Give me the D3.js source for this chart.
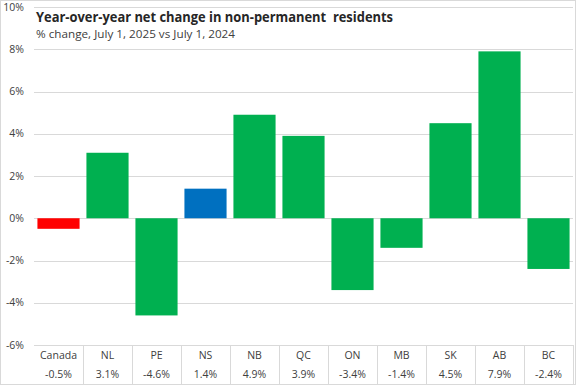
<!DOCTYPE html>
<html lang="en">
<head>
<meta charset="utf-8">
<title>Non-permanent residents change</title>
<script src="https://d3js.org/d3.v7.min.js"></script>
<style>
    body { margin: 0; background: white; }
    text { font-family: "Open Sans", "Noto Sans", sans-serif; }
</style>
</head>
<body>
<svg id="chart" width="576" height="385"></svg>
<script>

    // data
    var regions = ["Canada", "NL", "PE", "NS", "NB", "QC", "ON", "MB", "SK", "AB", "BC"];
    var changes = [-0.5, 3.1, -4.6, 1.4, 4.9, 3.9, -3.4, -1.4, 4.5, 7.9, -2.4];
    var barColors = ["#FF0000", "#00B050", "#00B050", "#0070C0", "#00B050", "#00B050",
                     "#00B050", "#00B050", "#00B050", "#00B050", "#00B050"];
    var yTicks = [-6, -4, -2, 0, 2, 4, 6, 8, 10];

    var width = 576, height = 385;
    var plotLeft = 34, plotRight = 573, plotTop = 7, plotBottom = 345;

    var svg = d3.select("#chart");

    svg.append("rect")
        .attr("x", 0.5).attr("y", 0.5)
        .attr("width", width - 1).attr("height", height - 1)
        .attr("fill", "white")
        .attr("stroke", "#d9d9d9");

    var x = d3.scaleBand().domain(regions).range([plotLeft, plotRight]).paddingInner(0.14).paddingOuter(0.07);
    var y = d3.scaleLinear().domain([-6, 10]).range([plotBottom, plotTop]);

    // gridlines
    svg.append("g").selectAll("line")
        .data(yTicks)
        .enter().append("line")
        .attr("x1", plotLeft).attr("x2", plotRight)
        .attr("y1", d => Math.round(y(d)) + 0.5)
        .attr("y2", d => Math.round(y(d)) + 0.5)
        .attr("stroke", "#d9d9d9");

    // y labels
    svg.append("g").selectAll("text")
        .data(yTicks)
        .enter().append("text")
        .attr("x", 24)
        .attr("y", d => y(d) + 3.5)
        .attr("text-anchor", "end")
        .attr("font-size", 10.5)
        .attr("fill", "#404040")
        .text(d => d + "%");

    // bars
    var data = regions.map((r, i) => ({ region: r, value: changes[i], color: barColors[i] }));

    svg.append("g").selectAll("rect")
        .data(data)
        .enter().append("rect")
        .attr("x", d => x(d.region))
        .attr("width", x.bandwidth())
        .attr("y", d => y(Math.max(0, d.value)))
        .attr("height", d => Math.abs(y(d.value) - y(0)))
        .attr("fill", d => d.color);

    // data table under the plot
    var step = x.step();
    var table = svg.append("g");
    regions.forEach(function (r, i) {
        if (i > 0) {
            var xl = Math.round(plotLeft + i * step) + 0.5;
            table.append("line")
                .attr("x1", xl).attr("x2", xl)
                .attr("y1", plotBottom).attr("y2", height - 1)
                .attr("stroke", "#d9d9d9");
        }
    });
    table.append("line")
        .attr("x1", plotRight + 0.5).attr("x2", plotRight + 0.5)
        .attr("y1", plotBottom).attr("y2", height - 1)
        .attr("stroke", "#d9d9d9");

    table.selectAll("text.cat")
        .data(data)
        .enter().append("text")
        .attr("class", "cat")
        .attr("x", d => plotLeft + (regions.indexOf(d.region) + 0.5) * step)
        .attr("y", 359)
        .attr("text-anchor", "middle")
        .attr("font-size", 10.5)
        .attr("fill", "#404040")
        .text(d => d.region);

    table.selectAll("text.val")
        .data(data)
        .enter().append("text")
        .attr("class", "val")
        .attr("x", d => plotLeft + (regions.indexOf(d.region) + 0.5) * step)
        .attr("y", 378)
        .attr("text-anchor", "middle")
        .attr("font-size", 10.5)
        .attr("fill", "#404040")
        .text(d => d.value.toFixed(1) + "%");

    // title block
    svg.append("text")
        .attr("x", 36).attr("y", 22)
        .attr("font-size", 15)
        .attr("font-weight", "bold")
        .attr("fill", "#262626")
        .attr("textLength", 357)
        .attr("lengthAdjust", "spacingAndGlyphs")
        .style("white-space", "pre")
        .text("Year-over-year net change in non-permanent  residents");

    svg.append("text")
        .attr("x", 36).attr("y", 38)
        .attr("font-size", 11.5)
        .attr("fill", "#404040")
        .attr("textLength", 199)
        .attr("lengthAdjust", "spacingAndGlyphs")
        .text("% change, July 1, 2025 vs July 1, 2024");

</script>
</body>
</html>
